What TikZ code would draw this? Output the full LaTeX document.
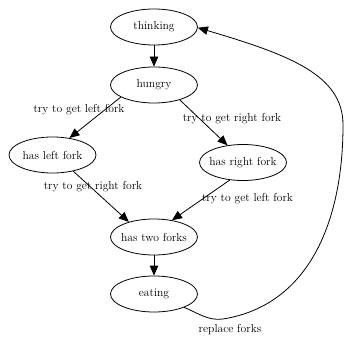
\documentclass[tikz,border=0pt]{standalone}
\usetikzlibrary{shapes.geometric,arrows.meta}
\newcommand{\zb}[1]{\makebox[0pt]{#1}}
\begin{document}
\begin{tikzpicture}[x=1pt,y=-1pt,
  st/.style={ellipse, draw, line width=0.8pt, minimum width=87pt, minimum height=36pt, inner sep=0pt, font=\fontsize{11.6}{13}\selectfont},
  lbl/.style={inner sep=0pt, font=\fontsize{11.6}{13}\selectfont},
  arr/.style={line width=0.8pt, -{Triangle[length=10pt,width=8.5pt]}}]
\useasboundingbox (0,0) rectangle (344,336);
\node[st] (thinking) at (154,27) {\zb{thinking}};
\node[st] (hungry) at (154,85) {\zb{hungry}};
\node[st] (left) at (52.5,155) {\zb{has left fork}};
\node[st] (right) at (243,162.5) {\zb{has right fork}};
\node[st] (two) at (154,237) {\zb{has two forks}};
\node[st] (eating) at (154,294) {\zb{eating}};
\node[lbl] (l1) at (79,110) {try to get left fork};
\node[lbl] (l2) at (232,119) {try to get right fork};
\node[lbl] (l3) at (93,187) {try to get right fork};
\node[lbl] (l4) at (247.5,199) {try to get left fork};
\node[lbl] (l5) at (230,330) {replace forks};
\draw[arr] (thinking) -- (hungry);
\draw[arr] (hungry.200) -- (left.45);
\draw[arr] (hungry.330) -- (right.132);
\draw[arr] (left.322) -- (two.149);
\draw[arr] (right.233) -- (two.43);
\draw[arr] (two) -- (eating);
\draw[arr] (eating.-24) .. controls (198,313) and (208,321) .. (223,319)
  .. controls (310,305) and (343,220) .. (343,125)
  .. controls (343,75) and (290,55) .. (thinking.-1);
\end{tikzpicture}
\end{document}
